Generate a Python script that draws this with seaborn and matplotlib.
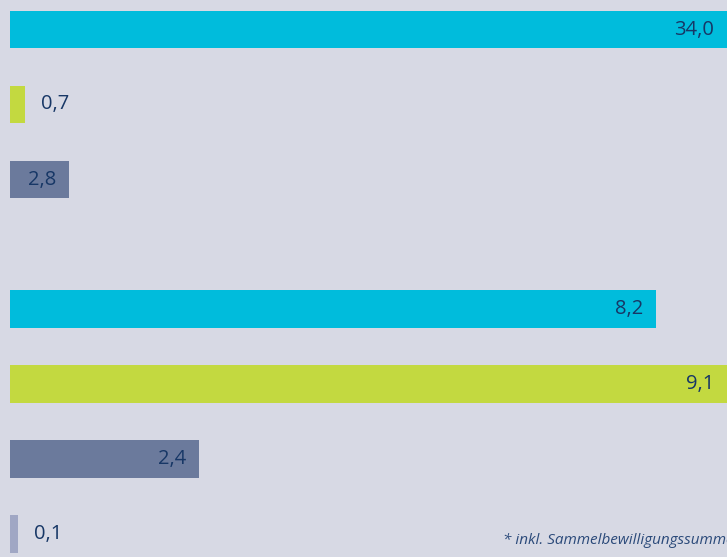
import seaborn as sns
import matplotlib.pyplot as plt

# ----------------------------
# data
# ----------------------------
top_cats = ["a", "b", "c"]
top_vals = [34.0, 0.7, 2.8]
top_colors = ["#00bcdc", "#c3d940", "#6b7a9c"]

bottom_cats = ["a", "b", "c", "d"]
bottom_vals = [8.2, 9.1, 2.4, 0.1]
bottom_colors = ["#00bcdc", "#c3d940", "#6b7a9c", "#a0a7c4"]

footnote = "* inkl. Sammelbewilligungssummen"

bg = "#d7d9e4"
text_col = "#173766"

sns.set_theme(style="white")
plt.rcParams["font.family"] = ["Open Sans", "DejaVu Sans"]

W, H = 727, 557
fig = plt.figure(figsize=(W / 100, H / 100), dpi=100, facecolor=bg)

# axes placed in pixels: one category step = 75 px
left, right = 10, 727


def add_panel(top_px, n):
    bottom_px = top_px + n * 75
    return fig.add_axes([left / W, 1 - bottom_px / H, (right - left) / W, n * 75 / H])


def draw(ax, cats, vals, colors, xmax):
    sns.barplot(x=vals, y=cats, hue=cats, palette=colors, orient="h",
                width=0.5, legend=False, saturation=1, linewidth=0, ax=ax)
    ax.set_xlim(0, xmax)
    ax.set_ylim(len(cats) - 0.5, -0.5)
    ax.set_facecolor(bg)
    ax.axis("off")
    for i, v in enumerate(vals):
        lab = f"{v:.1f}".replace(".", ",")
        if v / xmax > 0.06:
            ax.annotate(lab, (v, i), xytext=(-13, 0), textcoords="offset pixels",
                        ha="right", va="center", fontsize=14.5, color=text_col)
        else:
            ax.annotate(lab, (v, i), xytext=(16, 0), textcoords="offset pixels",
                        ha="left", va="center", fontsize=14.5, color=text_col)


ax1 = add_panel(-8, len(top_cats))
draw(ax1, top_cats, top_vals, top_colors, max(top_vals))

ax2 = add_panel(271.5, len(bottom_cats))
draw(ax2, bottom_cats, bottom_vals, bottom_colors, max(bottom_vals))

fig.text(503 / W, 1 - 541 / H, footnote, ha="left", va="center",
         fontsize=11, style="italic", color="#2b4a7a")

fig.savefig("out.png", dpi=100, facecolor=bg)
